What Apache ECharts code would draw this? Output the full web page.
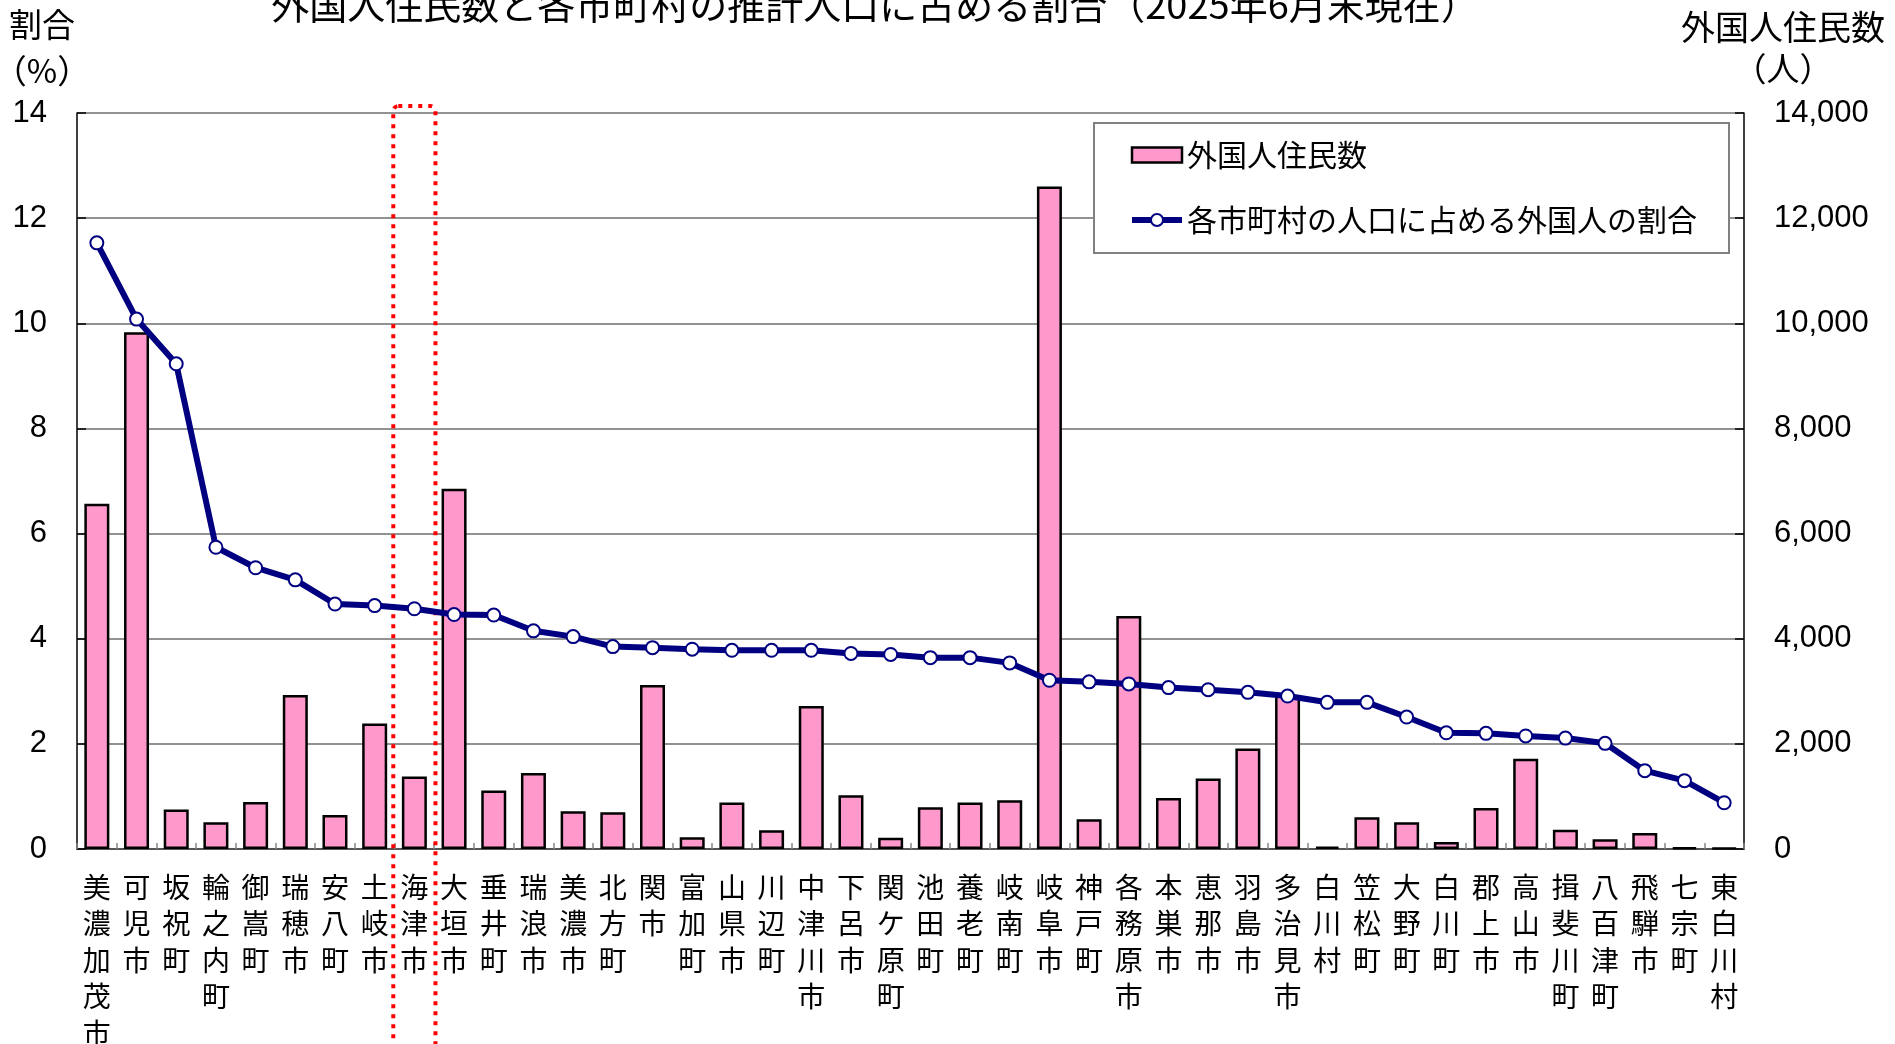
<!DOCTYPE html>
<html><head><meta charset="utf-8">
<script src="https://cdn.jsdelivr.net/npm/echarts@6/dist/echarts.min.js"></script>
<style>html,body{margin:0;padding:0;background:#fff}#c{width:1895px;height:1044px}</style>
</head><body><div id="c"></div>
<script>
const categories = ['美濃加茂市','可児市','坂祝町','輪之内町','御嵩町','瑞穂市','安八町','土岐市','海津市','大垣市','垂井町','瑞浪市','美濃市','北方町','関市','富加町','山県市','川辺町','中津川市','下呂市','関ケ原町','池田町','養老町','岐南町','岐阜市','神戸町','各務原市','本巣市','恵那市','羽島市','多治見市','白川村','笠松町','大野町','白川町','郡上市','高山市','揖斐川町','八百津町','飛騨市','七宗町','東白川村'];
const foreignResidents = [6567, 9830, 749, 508, 895, 2927, 648, 2388, 1378, 6852, 1111, 1448, 718, 699, 3118, 222, 883, 356, 2718, 1022, 216, 794, 883, 927, 12600, 565, 4432, 972, 1340, 1911, 2930, 45, 603, 508, 133, 781, 1715, 368, 184, 305, 30, 20];
const foreignRatio = [11.53, 10.08, 9.23, 5.74, 5.35, 5.12, 4.66, 4.63, 4.57, 4.46, 4.45, 4.15, 4.04, 3.85, 3.83, 3.80, 3.78, 3.78, 3.78, 3.72, 3.70, 3.64, 3.64, 3.54, 3.21, 3.18, 3.14, 3.07, 3.03, 2.98, 2.91, 2.79, 2.79, 2.51, 2.21, 2.20, 2.15, 2.11, 2.01, 1.49, 1.30, 0.88];
const ratioAxisTicks = {min: 0, max: 14, interval: 2};
const residentAxisTicks = {min: 0, max: 14000, interval: 2000};
const seriesNames = ['外国人住民数', '各市町村の人口に占める外国人の割合'];
const titleText = '外国人住民数と各市町村の推計人口に占める割合（2025年6月末現在）';
const highlighted = '海津市';

const CJK = '"Noto Sans CJK JP", "Noto Sans CJK SC", sans-serif';
const LAT = '"Liberation Sans", Arial, sans-serif';

const chart = echarts.init(document.getElementById('c'), null, {renderer: 'canvas'});
const option = {
  animation: false,
  backgroundColor: '#fff',
  grid: {left: 77, top: 113, width: 1667, height: 736, containLabel: false, outerBoundsMode: 'none'},
  legend: {
    orient: 'vertical', left: 1094, top: 123,
    padding: [17, 32, 18, 35], itemGap: 35,
    itemWidth: 50, itemHeight: 15,
    borderColor: '#808080', borderWidth: 2, backgroundColor: '#fff',
    textStyle: {fontSize: 30, fontFamily: CJK, color: '#000'},
    lineStyle: {width: 6, color: '#000080'},
    data: [
      {name: seriesNames[0], icon: 'rect', itemStyle: {color: '#ff99cc', borderColor: '#000', borderWidth: 2.5}},
      {name: seriesNames[1], itemStyle: {color: '#fff', borderColor: '#000080', borderWidth: 2}, lineStyle: {width: 6, color: '#000080'}}
    ]
  },
  xAxis: {
    type: 'category', data: categories, boundaryGap: true,
    axisLine: {lineStyle: {color: '#555', width: 2}},
    axisTick: {show: true, inside: true, length: 6, lineStyle: {color: '#888', width: 1.5}},
    axisLabel: {interval: 0, margin: 20, fontSize: 28, lineHeight: 36.5, color: '#000', fontFamily: CJK,
      formatter: v => v.split('').join('\n')}
  },
  yAxis: [
    {type: 'value', position: 'left', min: ratioAxisTicks.min, max: ratioAxisTicks.max, interval: ratioAxisTicks.interval,
      axisLine: {show: true, lineStyle: {color: '#000', width: 1.5}},
      axisTick: {show: true, inside: true, length: 9, lineStyle: {color: '#000', width: 1.5}},
      axisLabel: {margin: 30, fontSize: 31, fontFamily: LAT, color: '#000'},
      splitLine: {show: true, lineStyle: {color: '#6e6e6e', width: 1.5}}},
    {type: 'value', position: 'right', min: residentAxisTicks.min, max: residentAxisTicks.max, interval: residentAxisTicks.interval,
      axisLine: {show: true, lineStyle: {color: '#000', width: 1.5}},
      axisTick: {show: true, inside: true, length: 9, lineStyle: {color: '#000', width: 1.5}},
      axisLabel: {margin: 30, fontSize: 31, fontFamily: LAT, color: '#000',
        formatter: v => String(v).replace(/\B(?=(\d{3})+(?!\d))/g, ',')},
      splitLine: {show: false}}
  ],
  series: [
    {name: seriesNames[0], type: 'bar', yAxisIndex: 1, data: foreignResidents, barWidth: 25, z: 2,
      itemStyle: {color: '#ff99cc', borderColor: '#000', borderWidth: 2.5}},
    {name: seriesNames[1], type: 'line', yAxisIndex: 0, data: foreignRatio, z: 10,
      symbol: 'circle', symbolSize: 13, showSymbol: true,
      lineStyle: {color: '#000080', width: 6},
      itemStyle: {color: '#fff', borderColor: '#000080', borderWidth: 2}}
  ],
  graphic: [
    {type: 'text', x: 875, y: 5, style: {text: titleText, fontSize: 38, fontFamily: CJK, fill: '#000', align: 'center', verticalAlign: 'middle'}},
    {type: 'text', x: 42, y: 24, style: {text: '割合', fontSize: 33, fontFamily: CJK, fill: '#000', align: 'center', verticalAlign: 'middle'}},
    {type: 'text', x: 42, y: 70, style: {text: '（%）', fontSize: 33, fontFamily: CJK, fill: '#000', align: 'center', verticalAlign: 'middle'}},
    {type: 'text', x: 1783, y: 27, style: {text: '外国人住民数', fontSize: 34, fontFamily: CJK, fill: '#000', align: 'center', verticalAlign: 'middle'}},
    {type: 'text', x: 1783, y: 68, style: {text: '（人）', fontSize: 33, fontFamily: CJK, fill: '#000', align: 'center', verticalAlign: 'middle'}}
  ]
};
chart.setOption(option);

const hi = categories.indexOf(highlighted);
const pTop = chart.convertToPixel({gridIndex: 0}, [hi, ratioAxisTicks.max]);
const pNext = chart.convertToPixel({gridIndex: 0}, [hi + 1, ratioAxisTicks.max]);
const band = pNext[0] - pTop[0];
const w = band + 2.5;
chart.setOption({
  graphic: option.graphic.concat([
    {type: 'rect', z: 5, silent: true,
      shape: {x: pTop[0] - w / 2, y: pTop[1] - 7, width: w, height: 1100, r: 5},
      style: {fill: 'none', stroke: '#ff0000', lineWidth: 4, lineDash: [4, 6]}}
  ])
});
</script></body></html>
